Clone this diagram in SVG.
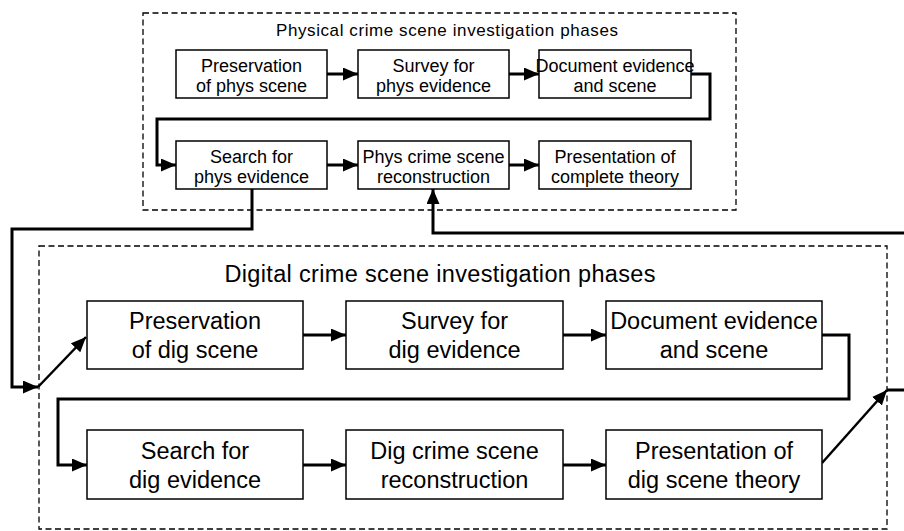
<svg xmlns="http://www.w3.org/2000/svg" width="904" height="531" viewBox="0 0 904 531">
<style>
.frame{fill:none;stroke:#000;stroke-width:1.3;stroke-dasharray:6 3.5}
.box{fill:#fff;stroke:#000;stroke-width:1.5}
.t{font-family:"Liberation Sans",Arial,sans-serif;fill:#000;text-anchor:middle}
.s{font-size:18px}
.l{font-size:23.5px}
.c{fill:none;stroke:#000;stroke-width:3}
.d{fill:none;stroke:#000;stroke-width:2.5}
</style>
<defs>
<marker id="ah" markerUnits="userSpaceOnUse" markerWidth="15" markerHeight="13" refX="15" refY="6.5" orient="auto">
<path d="M0,0 L15,6.5 L0,13 z" fill="#000"/>
</marker>
</defs>
<rect width="904" height="531" fill="#fff"/>
<g id="physical-frame">
<rect class="frame" x="143" y="13" width="593" height="197"/>
<text class="t" x="447" y="36" textLength="342" style="font-size:17px">Physical crime scene investigation phases</text>
</g>
<g id="digital-frame">
<rect class="frame" x="39" y="246" width="848" height="283"/>
<text class="t" x="440" y="282" textLength="431" style="font-size:23.5px">Digital crime scene investigation phases</text>
</g>
<g id="connectors">
<path class="c" d="M327,74 H358" marker-end="url(#ah)"/>
<path class="c" d="M509,74 H539" marker-end="url(#ah)"/>
<path class="c" d="M691,74 H710 V119 H157 V165 H176" marker-end="url(#ah)"/>
<path class="c" d="M327,165 H358" marker-end="url(#ah)"/>
<path class="c" d="M509,165 H539" marker-end="url(#ah)"/>
<path class="c" d="M252,189 V229 H12 V387 H38" marker-end="url(#ah)"/>
<path class="d" d="M38,387 L86,337" marker-end="url(#ah)"/>
<path class="c" d="M303,335 H346" marker-end="url(#ah)"/>
<path class="c" d="M563,335 H606" marker-end="url(#ah)"/>
<path class="c" d="M822,335 H849 V399 H58 V465 H87" marker-end="url(#ah)"/>
<path class="c" d="M303,465 H346" marker-end="url(#ah)"/>
<path class="c" d="M563,465 H606" marker-end="url(#ah)"/>
<path class="d" d="M822,463 L887,390" marker-end="url(#ah)"/>
<path class="c" d="M887,390 H907 V233 H433 V189" marker-end="url(#ah)"/>
</g>
<g id="p1"><rect class="box" x="176" y="50" width="151" height="48"/><text class="t s" x="251.5" y="72">Preservation</text><text class="t s" x="251.5" y="92">of phys scene</text></g>
<g id="p2"><rect class="box" x="358" y="50" width="151" height="48"/><text class="t s" x="433.5" y="72">Survey for</text><text class="t s" x="433.5" y="92">phys evidence</text></g>
<g id="p3"><rect class="box" x="539" y="50" width="152" height="48"/><text class="t s" x="615" y="72">Document evidence</text><text class="t s" x="615" y="92">and scene</text></g>
<g id="p4"><rect class="box" x="176" y="141" width="151" height="48"/><text class="t s" x="251.5" y="163">Search for</text><text class="t s" x="251.5" y="183">phys evidence</text></g>
<g id="p5"><rect class="box" x="358" y="141" width="151" height="48"/><text class="t s" x="433.5" y="163">Phys crime scene</text><text class="t s" x="433.5" y="183">reconstruction</text></g>
<g id="p6"><rect class="box" x="539" y="141" width="152" height="48"/><text class="t s" x="615" y="163">Presentation of</text><text class="t s" x="615" y="183">complete theory</text></g>
<g id="d1"><rect class="box" x="87" y="301" width="216" height="68"/><text class="t l" x="195" y="329">Preservation</text><text class="t l" x="195" y="358">of dig scene</text></g>
<g id="d2"><rect class="box" x="346" y="301" width="217" height="68"/><text class="t l" x="454.5" y="329">Survey for</text><text class="t l" x="454.5" y="358">dig evidence</text></g>
<g id="d3"><rect class="box" x="606" y="301" width="216" height="68"/><text class="t l" x="714" y="329">Document evidence</text><text class="t l" x="714" y="358">and scene</text></g>
<g id="d4"><rect class="box" x="87" y="430" width="216" height="69"/><text class="t l" x="195" y="459">Search for</text><text class="t l" x="195" y="488">dig evidence</text></g>
<g id="d5"><rect class="box" x="346" y="430" width="217" height="69"/><text class="t l" x="454.5" y="459">Dig crime scene</text><text class="t l" x="454.5" y="488">reconstruction</text></g>
<g id="d6"><rect class="box" x="606" y="430" width="216" height="69"/><text class="t l" x="714" y="459">Presentation of</text><text class="t l" x="714" y="488">dig scene theory</text></g>
</svg>
